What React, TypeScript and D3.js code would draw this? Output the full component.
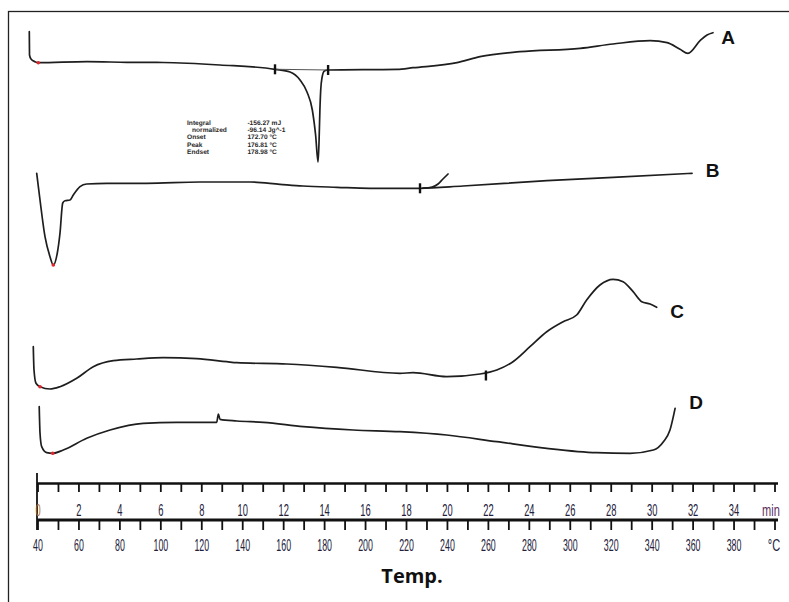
import React from "react";
import * as d3 from "d3";

const W = 789;
const H = 602;

// DSC traces: [temperature °C, heat flow (arbitrary units, stacked offsets)]
const curveA: [number, number][] = [
  [35.75, 44.33], [35.85, 42.0], [36.58, 41.6], [38.53, 41.33], [40.15, 41.23],
  [63.94, 41.33], [83.48, 41.27], [101.06, 41.25], [128.9, 41.0], [155.77, 40.57],
  [163.1, 40.3], [168.0, 39.5], [171.4, 38.3], [174.0, 36.5], [175.6, 34.0],
  [176.81, 31.3], [177.3, 33.5], [177.7, 36.5], [178.1, 38.5], [178.7, 39.7],
  [179.9, 40.4], [181.7, 40.5], [215.4, 40.57], [223.2, 40.73], [244.7, 41.23],
  [255.9, 41.83], [275.4, 42.33], [304.8, 42.67], [320.9, 43.1], [339.0, 43.43],
  [347.3, 43.23], [353.6, 42.57], [357.5, 42.17], [363.4, 43.43], [366.8, 44.0],
  [369.7, 44.23],
];
const curveB: [number, number][] = [
  [39.37, 30.17], [40.98, 27.5], [43.42, 23.83], [45.86, 21.83], [47.47, 21.0],
  [49.43, 22.2], [50.75, 24.2], [52.07, 27.2], [53.19, 27.43], [55.63, 27.5],
  [57.24, 28.0], [60.52, 28.83], [63.79, 29.1], [73.56, 29.17], [93.1, 29.17],
  [119.1, 29.3], [143.6, 29.3], [158.2, 29.07], [169.4, 28.9], [186.1, 28.77],
  [202.2, 28.67], [226.6, 28.67], [247.6, 28.9], [288.6, 29.43], [320.9, 29.77],
  [359.5, 30.17],
];
const curveBHook: [number, number][] = [
  [228.0, 28.68], [232.5, 28.8], [235.4, 29.1], [237.8, 29.6], [240.3, 30.1],
];
const curveC: [number, number][] = [
  [37.7, 12.83], [38.05, 10.5], [39.02, 9.17], [40.98, 8.83], [45.86, 8.6],
  [50.75, 8.83], [58.9, 9.67], [67.0, 10.83], [76.8, 11.43], [88.2, 11.6],
  [101.2, 11.73], [117.5, 11.63], [132.2, 11.33], [137.1, 11.23], [161.5, 11.1],
  [185.9, 10.77], [216.8, 10.17], [223.2, 10.23], [239.6, 9.83], [255.9, 10.1],
  [264.1, 10.5], [272.0, 11.33], [280.3, 12.83], [288.5, 14.33], [296.5, 15.33],
  [303.1, 16.0], [308.0, 17.5], [314.5, 19.0], [320.9, 19.57], [325.8, 19.33],
  [330.7, 18.33], [334.9, 17.33], [339.0, 17.1], [342.2, 16.77],
];
const curveD: [number, number][] = [
  [40.6, 6.83], [40.98, 4.2], [41.8, 2.83], [44.25, 2.23], [47.18, 2.17],
  [52.36, 2.5], [63.79, 3.67], [75.2, 4.5], [91.4, 5.17], [107.75, 5.27],
  [127.3, 5.27], [128.1, 6.1], [128.9, 5.57], [137.1, 5.4], [150.1, 5.27],
  [169.6, 4.83], [194.0, 4.5], [216.8, 4.33], [239.6, 4.0], [264.1, 3.33],
  [288.5, 2.67], [312.9, 2.23], [329.2, 2.17], [340.6, 2.5], [345.5, 3.33],
  [348.7, 4.5], [351.2, 6.67],
];

// Start-of-evaluation markers (red) and integration limit marks
const startMarks: [number, number][] = [
  [40.15, 41.23], [47.47, 21.0], [40.98, 8.83], [47.18, 2.17],
];
const limitMarks: [number, number][] = [
  [155.77, 40.57], [181.7, 40.5], [226.6, 28.67], [258.8, 9.95],
];
const integrationBaseline: [number, number][] = [[155.77, 40.57], [181.7, 40.5]];

// Trace labels
const traceNames = ["A", "B", "C", "D"];
const traceLabelPos: [number, number][] = [
  [377.1, 43.8], [369.5, 30.5], [352.2, 16.4], [361.5, 7.3],
];

// Peak evaluation results for trace A
const peakKeys = ["Integral", "  normalized", "Onset", "Peak", "Endset"];
const peakValues = ["-156.27 mJ", "-96.14 Jg^-1", "172.70 \u00B0C", "176.81 \u00B0C", "178.98 \u00B0C"];

// Axis ticks
const minuteTicks = d3.range(0, 37, 1);
const minuteLabels = [0, 2, 4, 6, 8, 10, 12, 14, 16, 18, 20, 22, 24, 26, 28, 30, 32, 34];
const tempTicks = d3.range(40, 401, 10);
const tempLabels = [40, 60, 80, 100, 120, 140, 160, 180, 200, 220, 240, 260, 280, 300, 320, 340, 360, 380];

export default function App() {
  const xT = d3.scaleLinear().domain([40, 400]).range([38, 775]);
  const xMin = d3.scaleLinear().domain([0, 36]).range([38, 775]);
  const y = d3.scaleLinear().domain([0, 45]).range([475, 25]);

  const line = d3
    .line<[number, number]>()
    .x((d) => xT(d[0]))
    .y((d) => y(d[1]))
    .curve(d3.curveMonotoneX);
  const straight = d3
    .line<[number, number]>()
    .x((d) => xT(d[0]))
    .y((d) => y(d[1]));

  const traceStroke = "#1e1e1e";
  const labelInk = "#23203a";

  const axisTopY = 483.5;
  const axisBotY = 520;
  const axisLeft = xT(40) - 1;
  const axisRight = xT(400) + 3;

  const annX = xT(112.8);
  const annValX = xT(142.3);
  const annY0 = 125;
  const annDy = 7.2;

  return (
    <svg
      width={W}
      height={H}
      viewBox={`0 0 ${W} ${H}`}
      style={{ position: "absolute", left: 0, top: 0, display: "block", background: "#fff" }}
    >
      <rect x={0} y={0} width={W} height={H} fill="#fff" />
      {/* frame */}
      <rect x={8.5} y={11.5} width={W + 20} height={H + 20} fill="none" stroke="#222" strokeWidth={1.3} />

      {/* traces */}
      <g fill="none" stroke={traceStroke} strokeWidth={1.7} strokeLinejoin="round" strokeLinecap="round">
        <path d={line(curveA) || ""} />
        <path d={line(curveB) || ""} />
        <path d={line(curveBHook) || ""} />
        <path d={line(curveC) || ""} />
        <path d={line(curveD) || ""} />
      </g>
      <path d={straight(integrationBaseline) || ""} fill="none" stroke="#555" strokeWidth={1.1} />

      {/* integration limit marks */}
      {limitMarks.map((d, i) => (
        <line
          key={`lm${i}`}
          x1={xT(d[0])}
          x2={xT(d[0])}
          y1={y(d[1]) - 5}
          y2={y(d[1]) + 5}
          stroke="#111"
          strokeWidth={2.4}
        />
      ))}

      {/* start markers */}
      {startMarks.map((d, i) => (
        <circle key={`sm${i}`} cx={xT(d[0])} cy={y(d[1])} r={1.8} fill="#e0262a" />
      ))}

      {/* peak evaluation block */}
      <g
        fontFamily="'Liberation Sans', Arial, sans-serif"
        fontSize={6.6}
        fontWeight="bold"
        fill="#2a2a2a"
        style={{ textRendering: "geometricPrecision" }}
      >
        {peakKeys.map((k, i) => (
          <text key={`pk${i}`} x={annX + (k.startsWith("  ") ? 5 : 0)} y={annY0 + i * annDy}>
            {k.trim()}
          </text>
        ))}
        {peakValues.map((v, i) => (
          <text key={`pv${i}`} x={annValX} y={annY0 + i * annDy}>
            {v}
          </text>
        ))}
      </g>

      {/* trace labels */}
      <g fontFamily="'Liberation Sans', Arial, sans-serif" fontSize={19} fontWeight="bold" fill="#111">
        {traceNames.map((n, i) => (
          <text
            key={n}
            x={xT(traceLabelPos[i][0])}
            y={y(traceLabelPos[i][1])}
            textAnchor="middle"
            dominantBaseline="central"
          >
            {n}
          </text>
        ))}
      </g>

      {/* dual time / temperature axis */}
      <g stroke="#111" fill="none">
        <line x1={axisLeft} x2={axisRight} y1={axisTopY} y2={axisTopY} strokeWidth={2.6} />
        <line x1={axisLeft} x2={axisRight} y1={axisBotY} y2={axisBotY} strokeWidth={3} />
        <line x1={axisLeft} x2={axisLeft} y1={473} y2={530} strokeWidth={1.8} />
        {minuteTicks.map((t) => (
          <line key={`mt${t}`} x1={xMin(t)} x2={xMin(t)} y1={axisTopY} y2={axisTopY + 8.5} strokeWidth={1.8} />
        ))}
        {tempTicks.map((t) => (
          <line key={`tt${t}`} x1={xT(t)} x2={xT(t)} y1={axisBotY} y2={axisBotY + 10} strokeWidth={1.8} />
        ))}
      </g>
      <g fontFamily="'Liberation Sans Narrow', 'Liberation Sans', sans-serif" fontSize={17} fill={labelInk}>
        {minuteLabels.map((t) => (
          <text
            key={`ml${t}`}
            transform={`translate(${xMin(t)},${516}) scale(0.55,1)`}
            textAnchor="middle"
            fill={t === 0 ? "#b0703a" : labelInk}
          >
            {t}
          </text>
        ))}
        <text transform={`translate(${xMin(35.8)},${516}) scale(0.65,1)`} textAnchor="middle" fill="#5b2f5e">
          min
        </text>
        {tempLabels.map((t) => (
          <text
            key={`tl${t}`}
            transform={`translate(${xT(t)},${551}) scale(0.52,1)`}
            textAnchor="middle"
          >
            {t}
          </text>
        ))}
        <text transform={`translate(${xT(399.5)},${551}) scale(0.65,1)`} textAnchor="middle">
          {"\u00B0C"}
        </text>
      </g>
      <text
        x={412}
        y={583}
        textAnchor="middle"
        fontFamily="'Open Sans', sans-serif"
        fontSize={20}
        fontWeight="bold"
        fill="#111"
      >
        Temp.
      </text>
    </svg>
  );
}
